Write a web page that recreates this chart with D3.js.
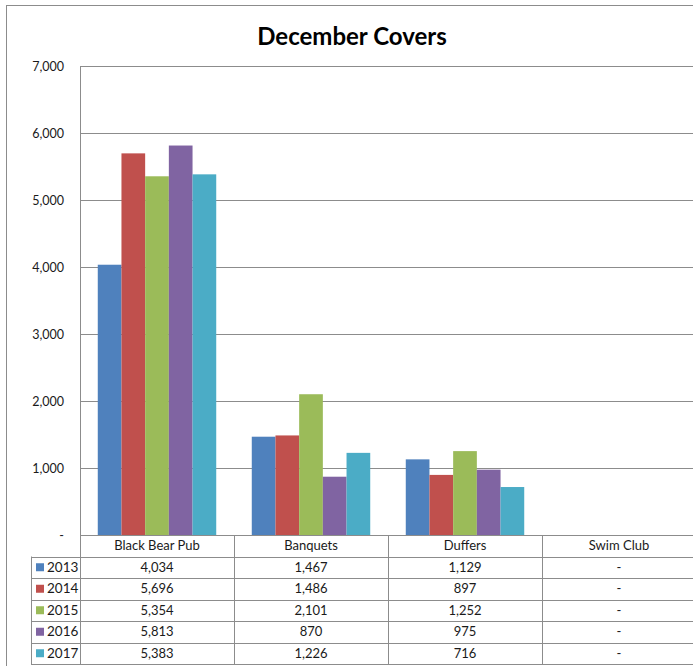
<!DOCTYPE html>
<html>
<head>
<meta charset="utf-8">
<script src="https://cdn.jsdelivr.net/npm/d3@7"></script>
<style>
  html, body { margin: 0; padding: 0; background: #fff; }
  svg { display: block; font-family: Lato, "Open Sans", sans-serif; }
</style>
</head>
<body>
<svg id="chart" width="693" height="666"></svg>
<script>
// December covers by venue and year
const categories = ["Black Bear Pub", "Banquets", "Duffers", "Swim Club"];
const years = ["2013", "2014", "2015", "2016", "2017"];
const values2013 = [4034, 1467, 1129, 0];
const values2014 = [5696, 1486, 897, 0];
const values2015 = [5354, 2101, 1252, 0];
const values2016 = [5813, 870, 975, 0];
const values2017 = [5383, 1226, 716, 0];
const yTicks = [0, 1000, 2000, 3000, 4000, 5000, 6000, 7000];
const colors = ["#4F81BD", "#C0504D", "#9BBB59", "#8064A2", "#4BACC6"];

const series = [values2013, values2014, values2015, values2016, values2017]
  .map((vals, i) => ({ year: years[i], color: colors[i], values: vals }));

const svg = d3.select("#chart");
const gridColor = "#8c8c8c";
const textColor = "#1a1a1a";
const fmt = v => v === 0 ? "-" : d3.format(",")(v);

// chart frame
svg.append("rect")
  .attr("x", 6.5).attr("y", 5.5)
  .attr("width", 720).attr("height", 700)
  .attr("fill", "none").attr("stroke", "#8c8c8c").attr("stroke-width", 1);

// title
svg.append("text")
  .attr("x", 352).attr("y", 45)
  .attr("text-anchor", "middle")
  .attr("font-size", 24).attr("font-weight", "bold").attr("fill", "#000")
  .text("December Covers");

const plotLeft = 80, plotRight = 696, plotTop = 66, plotBottom = 535;

const x0 = d3.scaleBand().domain(categories).range([plotLeft, plotRight]).padding(0);
const x1 = d3.scaleBand().domain(years).range([0, x0.bandwidth()])
  .paddingInner(0).paddingOuter(0.75);
const y = d3.scaleLinear().domain([0, 7000]).range([plotBottom, plotTop]);

// gridlines
svg.append("g").selectAll("line").data(yTicks.filter(t => t > 0)).join("line")
  .attr("x1", plotLeft).attr("x2", plotRight)
  .attr("y1", d => Math.round(y(d)) + 0.5).attr("y2", d => Math.round(y(d)) + 0.5)
  .attr("stroke", gridColor).attr("stroke-width", 1);

// y axis labels
const yAxis = d3.axisLeft(y).tickValues(yTicks).tickFormat(fmt).tickSize(0).tickPadding(16);
const gy = svg.append("g").attr("transform", `translate(${plotLeft},0)`).call(yAxis);
gy.select(".domain").remove();
gy.selectAll("text").attr("font-size", 12.5).attr("fill", textColor)
  .attr("font-family", "Lato, 'Open Sans', sans-serif");

// bars
const groups = svg.append("g").selectAll("g").data(series).join("g")
  .attr("fill", d => d.color);
groups.selectAll("rect")
  .data(d => d.values.map((v, i) => ({ cat: categories[i], year: d.year, v })))
  .join("rect")
  .attr("x", d => x0(d.cat) + x1(d.year))
  .attr("width", x1.bandwidth())
  .attr("y", d => y(d.v))
  .attr("height", d => plotBottom - y(d.v));

// axis lines
svg.append("line")
  .attr("x1", plotLeft + 0.5).attr("x2", plotLeft + 0.5)
  .attr("y1", plotTop).attr("y2", plotBottom)
  .attr("stroke", gridColor);

// data table
const rowH = 21.5;
const headerTop = plotBottom;
const tableBottom = headerTop + rowH * (years.length + 1);
const legendLeft = 31;
const lines = svg.append("g").attr("stroke", gridColor).attr("stroke-width", 1);

// horizontal rules
lines.append("line")
  .attr("x1", plotLeft).attr("x2", plotRight)
  .attr("y1", headerTop + 0.5).attr("y2", headerTop + 0.5);
d3.range(1, years.length + 2).forEach(i => {
  const yy = Math.round(headerTop + i * rowH) + 0.5;
  lines.append("line").attr("x1", legendLeft).attr("x2", plotRight)
    .attr("y1", yy).attr("y2", yy);
});
// vertical rules
lines.append("line")
  .attr("x1", legendLeft + 0.5).attr("x2", legendLeft + 0.5)
  .attr("y1", headerTop + rowH).attr("y2", tableBottom);
categories.forEach(c => {
  const xx = Math.round(x0(c)) + 0.5;
  lines.append("line").attr("x1", xx).attr("x2", xx)
    .attr("y1", headerTop).attr("y2", tableBottom);
});

// header labels
svg.append("g").selectAll("text").data(categories).join("text")
  .attr("x", d => x0(d) + x0.bandwidth() / 2)
  .attr("y", headerTop + rowH / 2)
  .attr("dy", "0.35em")
  .attr("text-anchor", "middle")
  .attr("font-size", 13).attr("fill", textColor)
  .text(d => d);

// rows
series.forEach((s, r) => {
  const cy = headerTop + rowH * (r + 1) + rowH / 2;
  svg.append("rect")
    .attr("x", 36).attr("y", cy - 4)
    .attr("width", 8).attr("height", 8)
    .attr("fill", s.color);
  svg.append("text")
    .attr("x", 47).attr("y", cy).attr("dy", "0.35em")
    .attr("font-size", 13.5).attr("fill", textColor)
    .text(s.year);
  svg.append("g").selectAll("text").data(s.values).join("text")
    .attr("x", (d, i) => x0(categories[i]) + x0.bandwidth() / 2)
    .attr("y", cy).attr("dy", "0.35em")
    .attr("text-anchor", "middle")
    .attr("font-size", 13).attr("fill", textColor)
    .text(d => fmt(d));
});
</script>
</body>
</html>
